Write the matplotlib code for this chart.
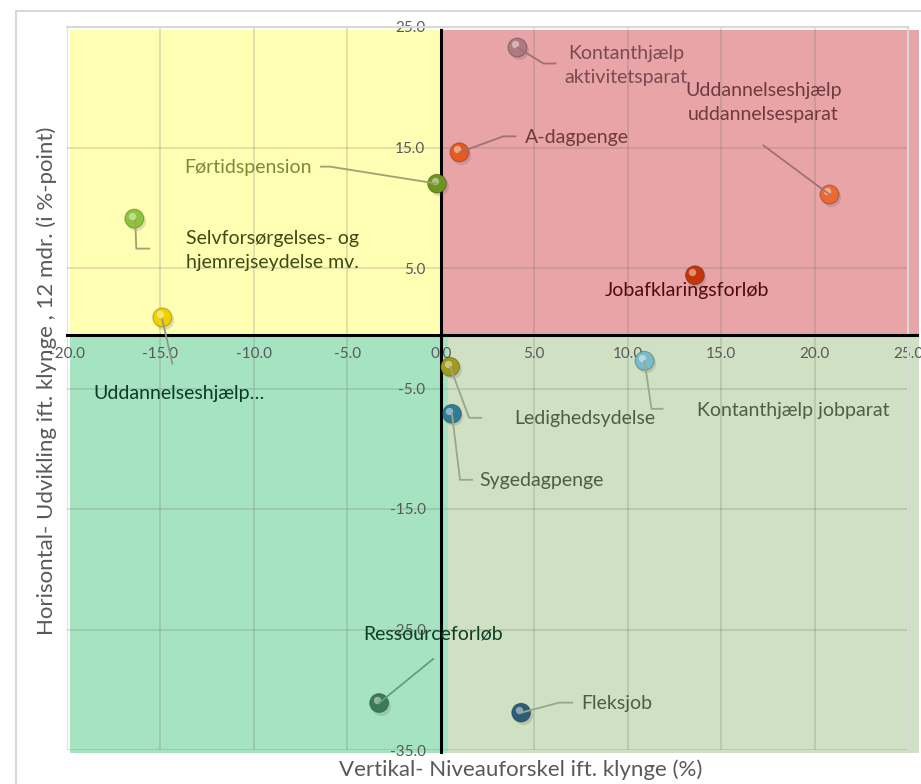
import matplotlib
matplotlib.use('Agg')
import matplotlib.pyplot as plt
from matplotlib.patches import Rectangle
from matplotlib.lines import Line2D
from matplotlib.transforms import IdentityTransform, offset_copy

plt.rcParams['font.family'] = ['Lato', 'DejaVu Sans']

# Data
ydelser = ['Kontanthjælp\naktivitetsparat', 'A-dagpenge', 'Uddannelseshjælp\nuddannelsesparat',
           'Jobafklaringsforløb', 'Førtidspension', 'Selvforsørgelses- og\nhjemrejseydelse mv.',
           'Uddannelseshjælp…', 'Ledighedsydelse', 'Kontanthjælp jobparat', 'Sygedagpenge',
           'Ressourceforløb', 'Fleksjob']
niveau = [4.1, 1.0, 20.8, 13.6, -0.2, -16.4, -14.9, 0.5, 10.9, 0.6, -3.3, 4.3]       # x
udvikling = [23.3, 14.6, 11.1, 4.4, 12.0, 9.1, 0.9, -3.2, -2.7, -7.1, -31.1, -31.9]  # y

x_ticks = [-20, -15, -10, -5, 0, 5, 10, 15, 20, 25]
y_ticks = [25, 15, 5, -5, -15, -25, -35]

# farver på kuglerne
prik_farver = ['#b07880', '#e85a1e', '#ec6a30', '#c4360a', '#6e9420', '#8cc43a',
               '#f2d000', '#a09a1e', '#78bccc', '#2e7c96', '#3c7a58', '#2c5e78']

# etiketter: tekstcentrum (pixels fra punktet) , knækpunkter for forbindelseslinje, tekstfarve, linjefarve
etiketter = [
    ((109, 18), [(0, 0), (26, 16), (38, 16)], '#7a4a52', '#a07078'),
    ((117, -15), [(0, 0), (44, -16), (56, -16)], '#6e3a3c', '#a07078'),
    ((-66, -92), [(0, 0), (-66, -49)], '#6e3a40', '#a07078'),
    ((-8, 15), None, '#4a0c10', None),
    ((-189, -16), [(0, 0), (-107, -17), (-116, -17)], '#7a8a3a', '#a0a070'),
    ((138, 32), [(1, 2), (2, 30), (15, 30)], '#3c4a14', '#a0a070'),
    ((17, 76), [(0, 2), (10, 46)], '#0c3a26', '#909a80'),
    ((135, 52), [(0, 0), (19, 51), (31, 51)], '#4e5e40', '#98a888'),
    ((149, 50), [(0, 0), (7, 48), (18, 48)], '#4e5e40', '#98a888'),
    ((90, 67), [(0, 0), (8, 66), (20, 66)], '#4e5e40', '#98a888'),
    ((54, -69), [(0, 0), (54, -44)], '#0e3e22', '#6a9a80'),
    ((96, -9), [(0, 0), (38, -10), (51, -10)], '#4e5e40', '#98a888'),
]

kryds_y = -0.6  # hvor den vandrette akse krydser

fig = plt.figure(figsize=(9.21, 7.84), dpi=100)
ax = fig.add_axes([67/921, 1 - 750/784, (908 - 67)/921, (750 - 27)/784])
ax.set_xlim(-20, 25)
ax.set_ylim(-35, 25)
ax.patch.set_facecolor('none')

# ydre ramme om diagrammet
fig.add_artist(Rectangle((16/921, -0.1), 2, 1 - 11/784 + 0.1, transform=fig.transFigure,
                         fill=False, edgecolor='#d9d9d9', lw=1.5))

# kvadranter
kvadranter = [((-19.85, kryds_y), 19.85, 24.75 - kryds_y, '#ffffb3'),
              ((0, kryds_y), 25.6, 24.75 - kryds_y, '#e8a4a6'),
              ((-19.85, -35.25), 20.25, kryds_y + 35.25, '#a6e3c1'),
              ((0.4, -35.25), 25.2, kryds_y + 35.25, '#cfe1c2')]
for (x0, y0), b, h, f in kvadranter:
    ax.add_patch(Rectangle((x0, y0), b, h, facecolor=f, edgecolor='none', zorder=0, clip_on=False))

ax.set_xticks(x_ticks)
ax.set_yticks(y_ticks)
ax.set_xticklabels([f'{v:.1f}' for v in x_ticks])
ax.set_yticklabels([f'{v:.1f}' for v in y_ticks])
ax.grid(True, color='#707070', alpha=0.25, lw=1.2, zorder=1)
ax.set_axisbelow(True)

for s in ['top', 'right']:
    ax.spines[s].set_color('#d9d9d9')
    ax.spines[s].set_linewidth(1.5)
ax.spines['left'].set_visible(False)
ax.spines['bottom'].set_visible(False)
ax.spines['left'].set_position(('data', 0))
ax.spines['bottom'].set_position(('data', kryds_y))
ax.tick_params(length=0, labelsize=11, labelcolor='#595959')
ax.tick_params(axis='x', pad=8)
ax.tick_params(axis='y', pad=11)

# sorte akselinjer
ax.plot([-20, 25.5], [kryds_y, kryds_y], color='black', lw=2.2, clip_on=False, zorder=3)
ax.plot([0, 0], [-35.2, 24.75], color='black', lw=2.2, clip_on=False, zorder=3)

ax.set_xlabel('Vertikal- Niveauforskel ift. klynge (%)', fontsize=16, color='#595959')
ax.xaxis.set_label_coords(0.539, -0.013)
ax.set_ylabel('Horisontal- Udvikling ift. klynge , 12 mdr. (i %-point)', fontsize=16, color='#595959')
ax.yaxis.set_label_coords(-0.012, 0.51)

# kugler: skygge, kugle, highlight
skygge = offset_copy(ax.transData, fig=fig, x=1.5, y=-2.5, units='dots')
glans = offset_copy(ax.transData, fig=fig, x=-2.5, y=3, units='dots')
ax.scatter(niveau, udvikling, s=190, color='#505050', alpha=0.18, transform=skygge, zorder=4, linewidths=0)
ax.scatter(niveau, udvikling, s=185, c=prik_farver, edgecolors='#00000040', linewidths=0.8, zorder=5)
ax.scatter(niveau, udvikling, s=28, color='white', alpha=0.45, transform=glans, zorder=6, linewidths=0)

# etiketter og forbindelseslinjer
for navn, x, y, (tekst_pos, knaek, tf, lf) in zip(ydelser, niveau, udvikling, etiketter):
    ax.annotate(navn, xy=(x, y), xytext=(tekst_pos[0], -tekst_pos[1]), textcoords='offset pixels',
                ha='center', va='center', fontsize=14, color=tf, linespacing=1.55, zorder=7)
    if knaek:
        bx, by = ax.transData.transform((x, y))
        fig.add_artist(Line2D([bx + dx for dx, dy in knaek], [by - dy for dx, dy in knaek],
                              transform=IdentityTransform(), color=lf, lw=1.3, zorder=4.5))

fig.savefig('out.png', dpi=100)
